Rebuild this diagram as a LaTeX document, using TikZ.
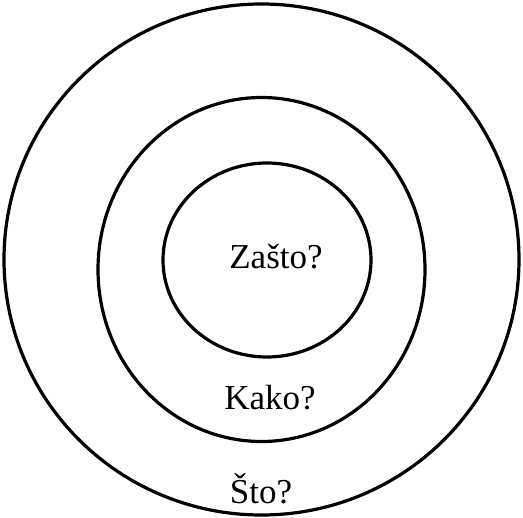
\documentclass[tikz,border=0pt]{standalone}
\usepackage{fontspec}
\setmainfont{Liberation Serif}
\usetikzlibrary{shapes.geometric}
\begin{document}
\begin{tikzpicture}[x=1pt,y=-1pt,
  ring/.style={draw=black, line width=3.2pt, ellipse, inner sep=0pt},
  lbl/.style={font=\fontsize{35}{42}\selectfont, inner sep=0pt}]
\useasboundingbox (0,0) rectangle (523,518);
\node[ring, minimum width=515pt, minimum height=511pt] (outer) at (261.5,259.5) {};
\node[ring, minimum width=327pt, minimum height=344pt] (middle) at (261.5,269.5) {};
\node[ring, minimum width=208pt, minimum height=194pt] (inner) at (267,260) {};
\node[lbl] (zasto) at (276,257) {Zašto?};
\node[lbl] (kako) at (270,398) {Kako?};
\node[lbl] (sto) at (261,489) {Što?};
\end{tikzpicture}
\end{document}
